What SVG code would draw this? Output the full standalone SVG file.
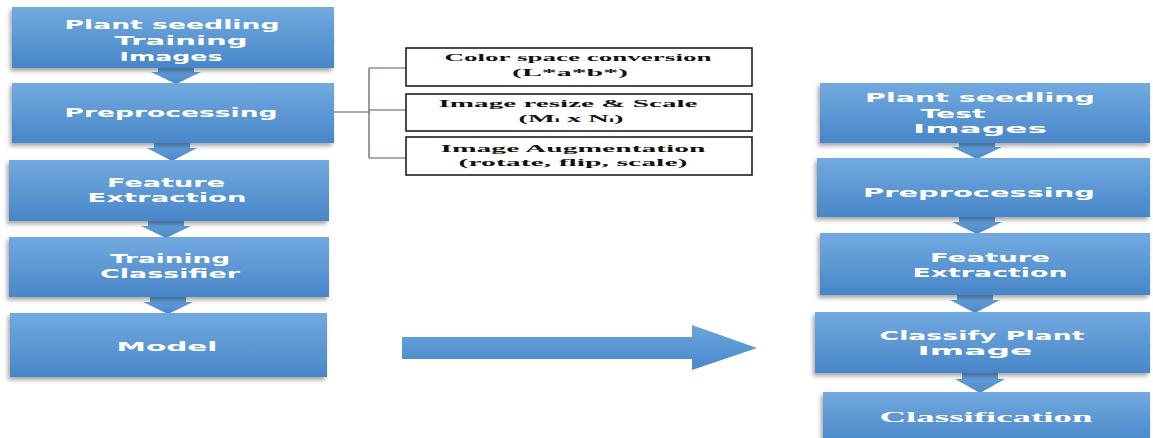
<svg xmlns="http://www.w3.org/2000/svg" width="1153" height="438" viewBox="0 0 1153 438">
<defs>
<linearGradient id="bg" x1="0" y1="0" x2="0" y2="1">
<stop offset="0" stop-color="#72aae0"/>
<stop offset="1" stop-color="#4886c8"/>
</linearGradient>
<linearGradient id="ag" x1="0" y1="0" x2="0" y2="1">
<stop offset="0" stop-color="#6aa5de"/>
<stop offset="1" stop-color="#4a88c9"/>
</linearGradient>
<filter id="sh" x="-10%" y="-20%" width="120%" height="150%">
<feDropShadow dx="-2" dy="3" stdDeviation="2" flood-color="#000" flood-opacity="0.35"/>
</filter>
</defs>
<style>
.box{fill:url(#bg);filter:url(#sh)}
.t{font-family:"DejaVu Sans",Verdana,sans-serif;font-weight:bold;font-size:13px;fill:#fff;text-anchor:middle}
.ts{font-family:"Liberation Serif","Times New Roman",serif;font-weight:bold;font-size:15px;fill:#fff;text-anchor:middle}
.sb{fill:#fff;stroke:#111;stroke-width:1.5}
.st{font-family:"Liberation Serif","Times New Roman",serif;font-weight:bold;font-size:11px;fill:#111;text-anchor:middle}
.ln{fill:none;stroke:#4d5d73;stroke-width:1.2}
.ar{fill:url(#ag)}
</style>
<rect width="1153" height="438" fill="#fff"/>

<g id="connectors">
<path class="ln" d="M334,112 H369 M369,68 V158 M369,68 H406 M369,110 H406 M369,158 H406"/>
<path class="ar" d="M158,67 H194 V72 H201 L176,84 L151,72 H158 Z"/>
<path class="ar" d="M154,142 H190 V148 H197 L172,161 L147,148 H154 Z"/>
<path class="ar" d="M148,220 H184 V226 H191 L166,238 L141,226 H148 Z"/>
<path class="ar" d="M150,296 H186 V302 H193 L168,314 L143,302 H150 Z"/>
<path class="ar" d="M959,142 H995 V147 H1002 L977,159 L952,147 H959 Z"/>
<path class="ar" d="M959,216 H995 V222 H1002 L977,234 L952,222 H959 Z"/>
<path class="ar" d="M957,294 H993 V300 H1000 L975,313 L950,300 H957 Z"/>
<path class="ar" d="M962,372 H998 V379 H1005 L980,393 L955,379 H962 Z"/>
<path class="ar" d="M402,337 H692 V325 L757,348 L692,370 V359 H402 Z"/>
</g>

<g id="train-images">
<rect class="box" x="12" y="7" width="322" height="61"/>
<text class="t" x="172" y="29" textLength="215" lengthAdjust="spacingAndGlyphs">Plant seedling</text>
<text class="t" x="181" y="45" textLength="133" lengthAdjust="spacingAndGlyphs">Training</text>
<text class="t" x="171" y="61" textLength="103" lengthAdjust="spacingAndGlyphs">Images</text>
</g>
<g id="preprocessing">
<rect class="box" x="12" y="83" width="322" height="60"/>
<text class="t" x="171" y="117" textLength="213" lengthAdjust="spacingAndGlyphs">Preprocessing</text>
</g>
<g id="feature-extraction">
<rect class="box" x="9" y="160" width="320" height="61"/>
<text class="t" x="166" y="187" textLength="118" lengthAdjust="spacingAndGlyphs">Feature</text>
<text class="t" x="167" y="202" textLength="159" lengthAdjust="spacingAndGlyphs">Extraction</text>
</g>
<g id="training-classifier">
<rect class="box" x="9" y="237" width="320" height="60"/>
<text class="t" x="170" y="263" textLength="120" lengthAdjust="spacingAndGlyphs">Training</text>
<text class="t" x="170" y="278" textLength="140" lengthAdjust="spacingAndGlyphs">Classifier</text>
</g>
<g id="model">
<rect class="box" x="10" y="313" width="317" height="64"/>
<text class="t" x="167" y="351" textLength="101" lengthAdjust="spacingAndGlyphs">Model</text>
</g>

<g id="color-space">
<rect class="sb" x="406" y="48" width="346" height="38"/>
<text class="st" x="578" y="61" textLength="267" lengthAdjust="spacingAndGlyphs">Color space conversion</text>
<text class="st" x="570" y="76" textLength="116" lengthAdjust="spacingAndGlyphs">(L*a*b*)</text>
</g>
<g id="resize-scale">
<rect class="sb" x="406" y="94" width="346" height="37"/>
<text class="st" x="568" y="107" textLength="259" lengthAdjust="spacingAndGlyphs">Image resize &amp; Scale</text>
<text class="st" x="571" y="122" textLength="105" lengthAdjust="spacingAndGlyphs">(M<tspan font-size="7">i</tspan> x N<tspan font-size="7">i</tspan>)</text>
</g>
<g id="augmentation">
<rect class="sb" x="406" y="137" width="346" height="38"/>
<text class="st" x="573" y="152" textLength="265" lengthAdjust="spacingAndGlyphs">Image Augmentation</text>
<text class="st" x="573" y="166" textLength="229" lengthAdjust="spacingAndGlyphs">(rotate, flip, scale)</text>
</g>

<g id="test-images">
<rect class="box" x="820" y="83" width="330" height="60"/>
<text class="t" x="980" y="102" textLength="230" lengthAdjust="spacingAndGlyphs">Plant seedling</text>
<text class="t" x="953" y="118" textLength="65" lengthAdjust="spacingAndGlyphs">Test</text>
<text class="t" x="980" y="133" textLength="134" lengthAdjust="spacingAndGlyphs">Images</text>
</g>
<g id="test-preprocessing">
<rect class="box" x="817" y="158" width="333" height="59"/>
<text class="t" x="979" y="197" textLength="232" lengthAdjust="spacingAndGlyphs">Preprocessing</text>
</g>
<g id="test-feature-extraction">
<rect class="box" x="820" y="233" width="330" height="62"/>
<text class="t" x="990" y="262" textLength="120" lengthAdjust="spacingAndGlyphs">Feature</text>
<text class="t" x="990" y="277" textLength="155" lengthAdjust="spacingAndGlyphs">Extraction</text>
</g>
<g id="classify-image">
<rect class="box" x="815" y="312" width="335" height="61"/>
<text class="t" x="982" y="340" textLength="205" lengthAdjust="spacingAndGlyphs">Classify Plant</text>
<text class="t" x="975" y="355" textLength="115" lengthAdjust="spacingAndGlyphs">Image</text>
</g>
<g id="classification">
<rect class="box" x="823" y="392" width="327" height="52"/>
<text class="ts" x="986" y="422" textLength="213" lengthAdjust="spacingAndGlyphs">Classification</text>
</g>
</svg>
